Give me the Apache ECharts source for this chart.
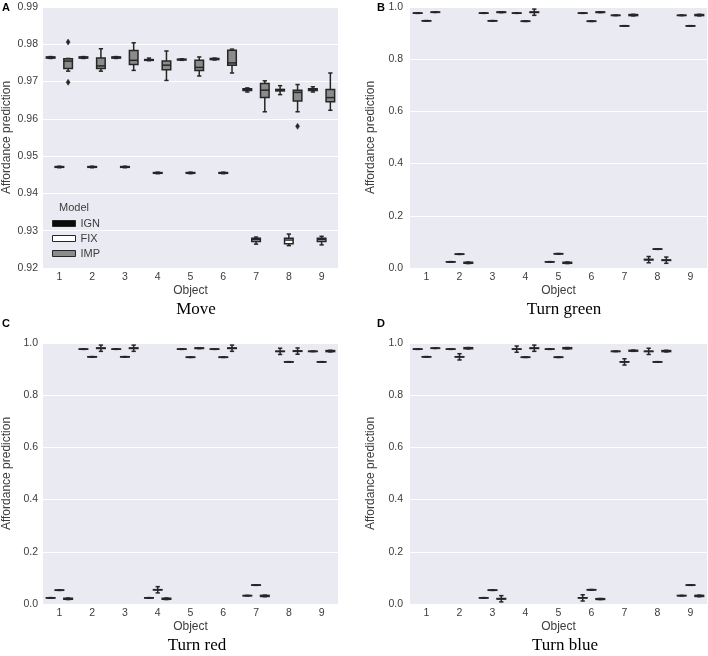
<!DOCTYPE html>
<html><head><meta charset="utf-8">
<script src="https://cdn.jsdelivr.net/npm/echarts@6/dist/echarts.min.js"></script>
<style>html,body{margin:0;padding:0;background:#fff}#c{width:708px;height:656px}</style>
</head><body><div id="c"></div>
<script>
// ---------------- data ----------------
const objects = ['1','2','3','4','5','6','7','8','9'];
const models = ['IGN','FIX','IMP'];
const panelTitles = ['Move','Turn green','Turn red','Turn blue'];
const panelLetters = ['A','B','C','D'];
const moveTicks = [0.92,0.93,0.94,0.95,0.96,0.97,0.98,0.99];
const turnTicks = [0.0,0.2,0.4,0.6,0.8,1.0];

// each entry: [min, Q1, median, Q3, max]
const moveIGN = [
 [0.9762,0.9763,0.9765,0.9766,0.9767],
 [0.9762,0.9763,0.9765,0.9766,0.9767],
 [0.9762,0.9763,0.9765,0.9766,0.9767],
 [0.9756,0.9757,0.9758,0.9759,0.9763],
 [0.9757,0.9758,0.9759,0.9760,0.9761],
 [0.9758,0.9759,0.9761,0.9762,0.9763],
 [0.9672,0.9676,0.9679,0.9681,0.9683],
 [0.9665,0.9675,0.9677,0.9679,0.9689],
 [0.9672,0.9676,0.9678,0.9681,0.9686]
];
const moveFIX = [
 [0.9469,0.9470,0.9471,0.9472,0.9473],
 [0.9469,0.9470,0.9471,0.9472,0.9473],
 [0.9469,0.9470,0.9471,0.9472,0.9473],
 [0.9453,0.9454,0.9455,0.9456,0.9457],
 [0.9453,0.9454,0.9455,0.9456,0.9457],
 [0.9453,0.9454,0.9455,0.9456,0.9457],
 [0.9264,0.9271,0.9276,0.9280,0.9283],
 [0.9260,0.9265,0.9275,0.9280,0.9291],
 [0.9262,0.9271,0.9276,0.9280,0.9285]
];
const moveIMP = [
 [0.9728,0.9735,0.9755,0.9761,0.9762],
 [0.9728,0.9735,0.9742,0.9763,0.9788],
 [0.9730,0.9746,0.9757,0.9783,0.9804],
 [0.9703,0.9732,0.9744,0.9755,0.9782],
 [0.9715,0.9730,0.9738,0.9757,0.9766],
 [0.9723,0.9744,0.9750,0.9784,0.9787],
 [0.9619,0.9657,0.9677,0.9695,0.9702],
 [0.9619,0.9648,0.9671,0.9677,0.9692],
 [0.9623,0.9646,0.9657,0.9679,0.9723]
];
const moveOutlierObject = ['1','1','8'];
const moveOutlierModel = ['IMP','IMP','IMP'];
const moveOutlierValue = [0.9806,0.9698,0.9580];

const greenIGN = [
 [0.9755,0.9760,0.9765,0.9770,0.9775],
 [0.0225,0.0230,0.0235,0.0240,0.0245],
 [0.9755,0.9760,0.9765,0.9770,0.9775],
 [0.9755,0.9760,0.9765,0.9770,0.9775],
 [0.0225,0.0230,0.0235,0.0240,0.0245],
 [0.9755,0.9760,0.9765,0.9770,0.9775],
 [0.9670,0.9675,0.9680,0.9685,0.9690],
 [0.0200,0.0310,0.0320,0.0330,0.0440],
 [0.9670,0.9675,0.9680,0.9685,0.9690]
];
const greenFIX = [
 [0.9460,0.9465,0.9470,0.9475,0.9480],
 [0.0520,0.0525,0.0530,0.0535,0.0540],
 [0.9460,0.9465,0.9470,0.9475,0.9480],
 [0.9445,0.9450,0.9455,0.9460,0.9465],
 [0.0535,0.0540,0.0545,0.0550,0.0555],
 [0.9445,0.9450,0.9455,0.9460,0.9465],
 [0.9266,0.9271,0.9276,0.9281,0.9286],
 [0.0714,0.0719,0.0724,0.0729,0.0734],
 [0.9266,0.9271,0.9276,0.9281,0.9286]
];
const greenIMP = [
 [0.9790,0.9795,0.9800,0.9805,0.9810],
 [0.0170,0.0180,0.0200,0.0220,0.0230],
 [0.9785,0.9790,0.9800,0.9810,0.9815],
 [0.9680,0.9790,0.9800,0.9810,0.9920],
 [0.0170,0.0180,0.0200,0.0220,0.0230],
 [0.9785,0.9790,0.9800,0.9810,0.9815],
 [0.9660,0.9670,0.9690,0.9710,0.9720],
 [0.0180,0.0290,0.0300,0.0310,0.0420],
 [0.9660,0.9670,0.9690,0.9710,0.9720]
];

const redIGN = [
 [0.0225,0.0230,0.0235,0.0240,0.0245],
 [0.9755,0.9760,0.9765,0.9770,0.9775],
 [0.9755,0.9760,0.9765,0.9770,0.9775],
 [0.0225,0.0230,0.0235,0.0240,0.0245],
 [0.9755,0.9760,0.9765,0.9770,0.9775],
 [0.9755,0.9760,0.9765,0.9770,0.9775],
 [0.0310,0.0315,0.0320,0.0325,0.0330],
 [0.9560,0.9675,0.9680,0.9685,0.9800],
 [0.9670,0.9675,0.9680,0.9685,0.9690]
];
const redFIX = [
 [0.0520,0.0525,0.0530,0.0535,0.0540],
 [0.9460,0.9465,0.9470,0.9475,0.9480],
 [0.9460,0.9465,0.9470,0.9475,0.9480],
 [0.0425,0.0540,0.0545,0.0550,0.0665],
 [0.9445,0.9450,0.9455,0.9460,0.9465],
 [0.9445,0.9450,0.9455,0.9460,0.9465],
 [0.0714,0.0719,0.0724,0.0729,0.0734],
 [0.9266,0.9271,0.9276,0.9281,0.9286],
 [0.9266,0.9271,0.9276,0.9281,0.9286]
];
const redIMP = [
 [0.0170,0.0180,0.0200,0.0220,0.0230],
 [0.9680,0.9790,0.9800,0.9810,0.9920],
 [0.9680,0.9790,0.9800,0.9810,0.9920],
 [0.0170,0.0180,0.0200,0.0220,0.0230],
 [0.9785,0.9790,0.9800,0.9810,0.9815],
 [0.9680,0.9790,0.9800,0.9810,0.9920],
 [0.0280,0.0290,0.0310,0.0330,0.0340],
 [0.9570,0.9680,0.9690,0.9700,0.9810],
 [0.9660,0.9670,0.9690,0.9710,0.9720]
];

const blueIGN = [
 [0.9755,0.9760,0.9765,0.9770,0.9775],
 [0.9755,0.9760,0.9765,0.9770,0.9775],
 [0.0225,0.0230,0.0235,0.0240,0.0245],
 [0.9645,0.9760,0.9765,0.9770,0.9885],
 [0.9755,0.9760,0.9765,0.9770,0.9775],
 [0.0115,0.0230,0.0235,0.0240,0.0355],
 [0.9670,0.9675,0.9680,0.9685,0.9690],
 [0.9560,0.9675,0.9680,0.9685,0.9800],
 [0.0310,0.0315,0.0320,0.0325,0.0330]
];
const blueFIX = [
 [0.9460,0.9465,0.9470,0.9475,0.9480],
 [0.9350,0.9465,0.9470,0.9475,0.9590],
 [0.0520,0.0525,0.0530,0.0535,0.0540],
 [0.9445,0.9450,0.9455,0.9460,0.9465],
 [0.9445,0.9450,0.9455,0.9460,0.9465],
 [0.0535,0.0540,0.0545,0.0550,0.0555],
 [0.9156,0.9271,0.9276,0.9281,0.9396],
 [0.9266,0.9271,0.9276,0.9281,0.9286],
 [0.0714,0.0719,0.0724,0.0729,0.0734]
];
const blueIMP = [
 [0.9790,0.9795,0.9800,0.9805,0.9810],
 [0.9775,0.9780,0.9800,0.9820,0.9825],
 [0.0080,0.0190,0.0200,0.0210,0.0320],
 [0.9680,0.9790,0.9800,0.9810,0.9920],
 [0.9775,0.9780,0.9800,0.9820,0.9825],
 [0.0170,0.0175,0.0190,0.0205,0.0210],
 [0.9680,0.9690,0.9700,0.9720,0.9730],
 [0.9660,0.9670,0.9690,0.9710,0.9720],
 [0.0280,0.0290,0.0310,0.0330,0.0340]
];

// ---------------- layout / style ----------------
const panelData = [
  [moveIGN, moveFIX, moveIMP],
  [greenIGN, greenFIX, greenIMP],
  [redIGN, redFIX, redIMP],
  [blueIGN, blueFIX, blueIMP]
];
const panelTicks = [moveTicks, turnTicks, turnTicks, turnTicks];
const tickDigits = [2, 1, 1, 1];
const gridBoxes = [
  {left: 43, top: 7, width: 295, height: 261},
  {left: 410, top: 7, width: 297, height: 261},
  {left: 43, top: 343, width: 295, height: 261},
  {left: 410, top: 343, width: 297, height: 261}
];
const fills = ['#0a0a0a', '#ffffff', '#8b8b8b'];
const lineColor = '#262626';
const sans = '"Liberation Sans", Arial, sans-serif';
const serif = '"Liberation Serif", "Times New Roman", serif';
const textColor = '#3c3c3c';
const HUE_W = 0.8 / 3;   // hue slot width in category units

function boxRender(modelIdx) {
  return function (params, api) {
    const xi = api.value(0);
    const bw = api.size([1, 0])[0];
    const off = (modelIdx - 1) * HUE_W * bw;
    const w = HUE_W * bw * 0.98;
    const cx = api.coord([xi, 0])[0] + off;
    const ys = [1, 2, 3, 4, 5].map(k => api.coord([xi, api.value(k)])[1]);
    const st = {stroke: lineColor, lineWidth: 1.5, fill: null};
    const hw = w / 2, cw = w / 4;
    return {
      type: 'group',
      children: [
        {type: 'line', shape: {x1: cx, y1: ys[0], x2: cx, y2: ys[1]}, style: st},
        {type: 'line', shape: {x1: cx, y1: ys[3], x2: cx, y2: ys[4]}, style: st},
        {type: 'line', shape: {x1: cx - cw, y1: ys[0], x2: cx + cw, y2: ys[0]}, style: st},
        {type: 'line', shape: {x1: cx - cw, y1: ys[4], x2: cx + cw, y2: ys[4]}, style: st},
        {type: 'rect', shape: {x: cx - hw, y: ys[3], width: w, height: ys[1] - ys[3]},
          style: {fill: fills[modelIdx], stroke: lineColor, lineWidth: 1.5}},
        {type: 'line', shape: {x1: cx - hw, y1: ys[2], x2: cx + hw, y2: ys[2]}, style: st}
      ]
    };
  };
}

function outlierRender(params, api) {
  const xi = api.value(0);
  const m = api.value(2);
  const bw = api.size([1, 0])[0];
  const off = (m - 1) * HUE_W * bw;
  const p = api.coord([xi, api.value(1)]);
  const cx = p[0] + off, cy = p[1];
  return {
    type: 'polygon',
    shape: {points: [[cx, cy - 3], [cx + 2, cy], [cx, cy + 3], [cx - 2, cy]]},
    style: {fill: lineColor, stroke: lineColor, lineWidth: 0.5}
  };
}

const series = [];
panelData.forEach((sets, p) => {
  sets.forEach((arr, m) => {
    series.push({
      type: 'custom',
      name: models[m],
      xAxisIndex: p,
      yAxisIndex: p,
      renderItem: boxRender(m),
      encode: {x: 0, y: [1, 2, 3, 4, 5]},
      itemStyle: {color: fills[m], borderColor: lineColor, borderWidth: 1},
      data: arr.map((d, i) => [i, d[0], d[1], d[2], d[3], d[4]]),
      silent: true,
      z: 3
    });
  });
});
series.push({
  type: 'custom',
  name: 'outliers',
  xAxisIndex: 0,
  yAxisIndex: 0,
  renderItem: outlierRender,
  encode: {x: 0, y: 1},
  data: moveOutlierValue.map((v, i) => [objects.indexOf(moveOutlierObject[i]), v, models.indexOf(moveOutlierModel[i])]),
  silent: true,
  z: 4
});

const xAxes = gridBoxes.map((g, p) => ({
  type: 'category', gridIndex: p, data: objects,
  name: 'Object', nameLocation: 'middle', nameGap: 17,
  nameTextStyle: {fontFamily: sans, fontSize: 12, color: textColor},
  axisLine: {show: false}, axisTick: {show: false},
  axisLabel: {margin: 4, fontFamily: sans, fontSize: 10.5, color: textColor},
  splitLine: {show: false}
}));
const yAxes = gridBoxes.map((g, p) => {
  const t = panelTicks[p];
  return {
    type: 'value', gridIndex: p,
    min: t[0], max: t[t.length - 1], interval: t[1] - t[0],
    name: 'Affordance prediction', nameLocation: 'middle',
    nameGap: p % 2 === 0 ? 30 : 33,
    nameTextStyle: {fontFamily: sans, fontSize: 12, color: textColor},
    axisLine: {show: false}, axisTick: {show: false},
    axisLabel: {margin: p % 2 === 0 ? 5 : 7, fontFamily: sans, fontSize: 10.5, color: textColor,
      formatter: v => v.toFixed(tickDigits[p])},
    splitLine: {show: true, lineStyle: {color: '#ffffff', width: 1}}
  };
});

const titlePos = [[196, 310], [564, 310], [197, 646], [565, 646]];
const letterPos = [[2, 7.5], [377, 7.5], [2, 323.5], [377, 323.5]];
const graphics = [];
panelTitles.forEach((t, p) => {
  graphics.push({type: 'text', x: titlePos[p][0], y: titlePos[p][1],
    style: {text: t, font: '17px ' + serif, fill: '#000', align: 'center', verticalAlign: 'middle'}});
  graphics.push({type: 'text', x: letterPos[p][0], y: letterPos[p][1],
    style: {text: panelLetters[p], font: 'bold 11px ' + sans, fill: '#000', align: 'left', verticalAlign: 'middle'}});
});
graphics.push({type: 'text', x: 74, y: 208, z: 10,
  style: {text: 'Model', font: '11px ' + sans, fill: textColor, align: 'center', verticalAlign: 'middle'}});

const option = {
  animation: false,
  backgroundColor: '#ffffff',
  grid: gridBoxes.map(g => Object.assign({show: true, backgroundColor: '#EAEAF2', borderWidth: 0, containLabel: false}, g)),
  xAxis: xAxes,
  yAxis: yAxes,
  legend: {
    orient: 'vertical', left: 52, top: 218, padding: 0,
    itemWidth: 23, itemHeight: 6, itemGap: 4,
    selectedMode: false,
    textStyle: {fontFamily: sans, fontSize: 11, color: textColor},
    data: models.map((m, i) => ({name: m, icon: 'rect',
      itemStyle: {color: fills[i], borderColor: lineColor, borderWidth: 1}}))
  },
  graphic: {elements: graphics},
  series: series
};
const chart = echarts.init(document.getElementById('c'), null, {renderer: 'canvas'});
chart.setOption(option);
</script>
</body></html>
